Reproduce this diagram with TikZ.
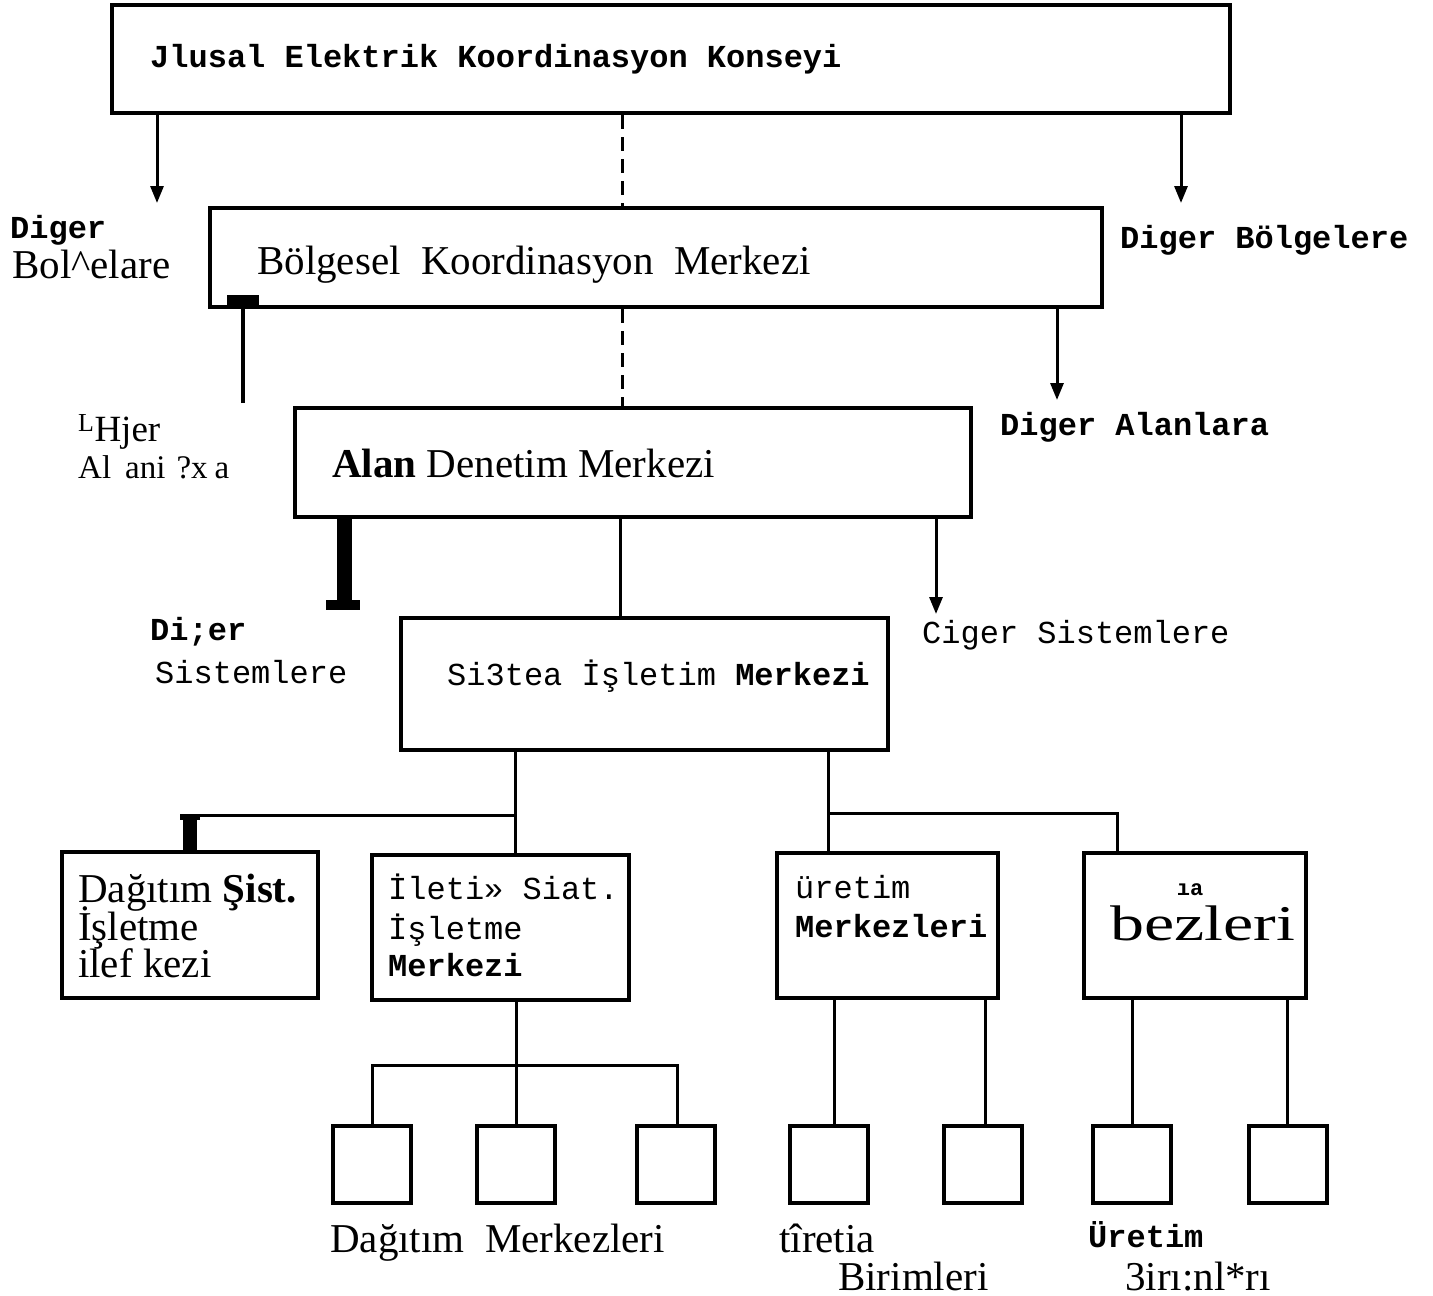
\documentclass[tikz,border=0pt]{standalone}
\usepackage{fontspec}
\setmainfont{Liberation Serif}
\setmonofont{Liberation Mono}
\usetikzlibrary{arrows.meta}
\begin{document}
\begin{tikzpicture}[x=1pt,y=-1pt,
 box/.style={draw, line width=4.5pt, inner sep=0pt},
 conn/.style={line width=3pt},
 arr/.style={conn, -{Triangle[length=17pt,width=13pt]}},
 dconn/.style={conn, dash pattern=on 14pt off 8pt},
 ser/.style={anchor=base west, inner sep=0pt, font=\fontsize{41}{44}\selectfont},
 sers/.style={anchor=base west, inner sep=0pt, font=\fontsize{33}{35}\selectfont},
 mono/.style={anchor=base west, inner sep=0pt, font=\fontsize{32}{34}\selectfont\ttfamily},
 monob/.style={anchor=base west, inner sep=0pt, font=\fontsize{32}{34}\selectfont\ttfamily\bfseries},
]
\useasboundingbox (0,0) rectangle (1433,1296);
% boxes
\node[box, minimum width=1118pt, minimum height=108pt] (ulusal) at (671,59) {};
\node[box, minimum width=892pt, minimum height=99pt] (bolge) at (656,257.5) {};
\node[box, minimum width=676pt, minimum height=109pt] (alan) at (633,462.5) {};
\node[box, minimum width=487pt, minimum height=132pt] (sistem) at (644.5,684) {};
\node[box, minimum width=256pt, minimum height=146pt] (dag) at (190,925) {};
\node[box, minimum width=257pt, minimum height=145pt] (ilet) at (500.5,927.5) {};
\node[box, minimum width=221pt, minimum height=145pt] (uret) at (887.5,925.5) {};
\node[box, minimum width=222pt, minimum height=145pt] (bez) at (1195,925.5) {};
\foreach \n/\x in {s1/372,s2/516,s3/676,s4/829,s5/983,s6/1132,s7/1288}
  \node[box, minimum width=78pt, minimum height=77pt] (\n) at (\x,1164.5) {};
% helper coordinates
\coordinate (e1) at (157,203);
\coordinate (e2) at (1181,203);
\coordinate (dx) at (622,0);
\coordinate (e3) at (1057,400);
\coordinate (t1) at (243,403);
\coordinate (cx) at (620,0);
\coordinate (e4) at (936,614);
\coordinate (j1) at (515,815);
\coordinate (j1l) at (190,815);
\coordinate (j2) at (828,813);
\coordinate (j2r) at (1117,813);
\coordinate (j3) at (516,1065);
\coordinate (j3l) at (372,1065);
\coordinate (j3r) at (677,1065);
% connectors
\draw[arr] (e1 |- ulusal.south) -- (e1);
\draw[arr] (e2 |- ulusal.south) -- (e2);
\draw[dconn] (dx |- ulusal.south) -- (dx |- bolge.north);
\draw[dconn] (dx |- bolge.south) -- (dx |- alan.north);
\draw[arr] (e3 |- bolge.south) -- (e3);
\draw[line width=4.5pt] (t1) -- (t1 |- bolge.south);
\fill ([xshift=-16pt,yshift=4pt]t1 |- bolge.south) rectangle ([xshift=16pt,yshift=14pt]t1 |- bolge.south);
\fill (337,517) rectangle (352,603);
\fill (326,600) rectangle (360,610);
\draw[conn] (cx |- alan.south) -- (cx |- sistem.north);
\draw[arr] (e4 |- alan.south) -- (e4);
\draw[conn] (j1 |- sistem.south) -- (j1) -- (j1 |- ilet.north);
\draw[conn] (j1) -- (j1l);
\fill (183,813.5) rectangle (197,852);
\fill (180,813.5) rectangle (200,820);
\draw[conn] (j2 |- sistem.south) -- (j2) -- (j2 |- uret.north);
\draw[conn] (j2) -- (j2r) -- (j2r |- bez.north);
\draw[conn] (j3 |- ilet.south) -- (j3) -- (j3 |- s2.north);
\draw[conn] (j3l |- s1.north) -- (j3l) -- (j3r) -- (j3r |- s3.north);
\draw[conn] (s4.north -| 834,0) -- (uret.south -| 834,0);
\draw[conn] (s5.north -| 985,0) -- (uret.south -| 985,0);
\draw[conn] (s6.north -| 1132,0) -- (bez.south -| 1132,0);
\draw[conn] (s7.north -| 1287,0) -- (bez.south -| 1287,0);
% texts
\node[monob] (tul) at (150,67) {Jlusal Elektrik Koordinasyon Konseyi};
\node[ser] (tbo) at (257,274) {Bölgesel\ \ Koordinasyon\ \ Merkezi};
\node[ser] (tal) at (332,477) {\textbf{Alan} Denetim Merkezi};
\node[mono] (tsi) at (447,685) {Si3tea İşletim \textbf{Merkezi}};
\node[monob] (ld1) at (10,238) {Diger};
\node[ser] (ld2) at (12,278) {Bol\textasciicircum elare};
\node[monob] (rd1) at (1120,248) {Diger Bölgelere};
\node[monob] (rd2) at (1000,435) {Diger Alanlara};
\node[anchor=base west, inner sep=0pt, font=\fontsize{37}{39}\selectfont] (lh1) at (78,441) {\textsuperscript{L}Hjer};
\node[sers] (lh2) at (78,478) {Al\hspace{14pt}ani\hspace{11pt}?x\hspace{7pt}a};
\node[monob] (ls1) at (150,640) {Di;er};
\node[mono] (ls2) at (155,683) {Sistemlere};
\node[mono] (rs1) at (922,643) {Ciger Sistemlere};
\node[ser] (b51) at (78,902) {Dağıtım \textbf{Şist.}};
\node[ser] (b52) at (78,940) {İşletme};
\node[ser] (b53) at (78,977) {ilef kezi};
\node[mono] (b61) at (388,899) {İleti» Siat.};
\node[mono] (b62) at (388,939) {İşletme};
\node[monob] (b63) at (388,976) {Merkezi};
\node[mono] (b71) at (795,898) {üretim};
\node[monob] (b72) at (795,937) {Merkezleri};
\node[anchor=base, inner sep=0pt, font=\fontsize{22}{24}\selectfont\ttfamily\bfseries] (b81) at (1190,895) {ıa};
\node[ser, font=\fontsize{50}{52}\selectfont, xscale=1.36] (b82) at (1110,940) {bezleri};
\node[ser] (l1) at (330,1252) {Dağıtım\ \ Merkezleri};
\node[ser] (l2) at (779,1252) {tîretia};
\node[ser] (l3) at (838,1290) {Birimleri};
\node[monob] (l4) at (1088,1247) {Üretim};
\node[ser] (l5) at (1125,1290) {3irı:nl*rı};
\end{tikzpicture}
\end{document}
